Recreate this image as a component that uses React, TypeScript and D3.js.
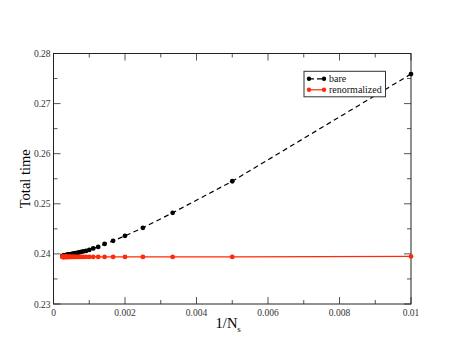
import React, { useRef, useEffect } from "react";
import * as d3 from "d3";

// 1/N_s for N_s = 100, 200, ..., 4000
const invNs = [
  0.01, 0.005, 0.003333, 0.0025, 0.002, 0.001667, 0.001429, 0.00125, 0.001111, 0.001,
  0.000909, 0.000833, 0.000769, 0.000714, 0.000667, 0.000625, 0.000588, 0.000556, 0.000526, 0.0005,
  0.000476, 0.000455, 0.000435, 0.000417, 0.0004, 0.000385, 0.00037, 0.000357, 0.000345, 0.000333,
  0.000323, 0.000313, 0.000303, 0.000294, 0.000286, 0.000278, 0.00027, 0.000263, 0.000256, 0.00025,
];

const bareTime = [
  0.2759, 0.2545, 0.2482, 0.2452, 0.2436, 0.2426, 0.242, 0.2414, 0.2411, 0.2408,
  0.2406, 0.2405, 0.2404, 0.2403, 0.2402, 0.24015, 0.2401, 0.24005, 0.24, 0.23995,
  0.2399, 0.23988, 0.23986, 0.23984, 0.23982, 0.2398, 0.23978, 0.23976, 0.23974, 0.23972,
  0.2397, 0.23968, 0.23966, 0.23964, 0.23962, 0.2396, 0.23958, 0.23956, 0.23955, 0.23954,
];

const renormTime = [
  0.2395, 0.2394, 0.2394, 0.2394, 0.2394, 0.2394, 0.2394, 0.2394, 0.2394, 0.2394,
  0.2394, 0.2394, 0.2394, 0.2394, 0.2394, 0.2394, 0.2394, 0.2394, 0.2394, 0.2394,
  0.2394, 0.2394, 0.2394, 0.2394, 0.2394, 0.2394, 0.2394, 0.2394, 0.2394, 0.2394,
  0.2394, 0.2394, 0.2394, 0.2394, 0.2394, 0.2394, 0.2394, 0.2394, 0.2394, 0.2394,
];

const xTicks = [0, 0.002, 0.004, 0.006, 0.008, 0.01];
const xTickLabels = ["0", "0.002", "0.004", "0.006", "0.008", "0.01"];
const yTicks = [0.23, 0.24, 0.25, 0.26, 0.27, 0.28];
const yTickLabels = ["0.23", "0.24", "0.25", "0.26", "0.27", "0.28"];

const seriesNames = ["bare", "renormalized"];
const seriesColors = ["#000000", "#ff2a0a"];

const W = 463;
const H = 358;
const margin = { top: 53.5, right: 52, bottom: 54, left: 53.5 };
const FONT = "Liberation Serif, Times New Roman, serif";

export default function App() {
  const ref = useRef<SVGSVGElement | null>(null);

  useEffect(() => {
    document.body.style.margin = "0";
    const svg = d3.select(ref.current);
    svg.selectAll("*").remove();
    svg.style("font-family", FONT);

    const x = d3.scaleLinear().domain([0, 0.01]).range([margin.left, W - margin.right]);
    const y = d3.scaleLinear().domain([0.23, 0.28]).range([H - margin.bottom, margin.top]);
    const [x0, x1] = x.range();
    const [y0, y1] = y.range();

    svg.append("rect").attr("width", W).attr("height", H).attr("fill", "#fff");

    const tickColor = "#555";
    const minorX = d3.range(0.001, 0.01, 0.002);
    const minorY = d3.range(0.235, 0.28, 0.01);
    const g = svg.append("g").attr("stroke", tickColor).attr("stroke-width", 1);

    // ticks on all four sides, pointing inward
    xTicks.forEach((t) => {
      g.append("line").attr("x1", x(t)).attr("x2", x(t)).attr("y1", y0).attr("y2", y0 - 7);
      g.append("line").attr("x1", x(t)).attr("x2", x(t)).attr("y1", y1).attr("y2", y1 + 7);
    });
    minorX.forEach((t) => {
      g.append("line").attr("x1", x(t)).attr("x2", x(t)).attr("y1", y0).attr("y2", y0 - 4);
      g.append("line").attr("x1", x(t)).attr("x2", x(t)).attr("y1", y1).attr("y2", y1 + 4);
    });
    yTicks.forEach((t) => {
      g.append("line").attr("x1", x0).attr("x2", x0 + 7).attr("y1", y(t)).attr("y2", y(t));
      g.append("line").attr("x1", x1).attr("x2", x1 - 7).attr("y1", y(t)).attr("y2", y(t));
    });
    minorY.forEach((t) => {
      g.append("line").attr("x1", x0).attr("x2", x0 + 4).attr("y1", y(t)).attr("y2", y(t));
      g.append("line").attr("x1", x1).attr("x2", x1 - 4).attr("y1", y(t)).attr("y2", y(t));
    });

    svg
      .append("rect")
      .attr("x", x0)
      .attr("y", y1)
      .attr("width", x1 - x0)
      .attr("height", y0 - y1)
      .attr("fill", "none")
      .attr("stroke", "#222")
      .attr("stroke-width", 1);

    // tick labels
    svg
      .selectAll(".xl")
      .data(xTicks)
      .join("text")
      .attr("x", (d) => x(d))
      .attr("y", y0 + 12)
      .attr("text-anchor", "middle")
      .attr("font-size", 9.5)
      .attr("fill", "#333")
      .text((_, i) => xTickLabels[i]);

    svg
      .selectAll(".yl")
      .data(yTicks)
      .join("text")
      .attr("x", x0 - 3)
      .attr("y", (d) => y(d) + 3.5)
      .attr("text-anchor", "end")
      .attr("font-size", 9.5)
      .attr("fill", "#333")
      .text((_, i) => yTickLabels[i]);

    // axis titles
    svg
      .append("text")
      .attr("transform", `translate(29.5,${(y0 + y1) / 2}) rotate(-90)`)
      .attr("text-anchor", "middle")
      .attr("font-size", 14.5)
      .text("Total time");

    const xl = svg
      .append("text")
      .attr("x", (x0 + x1) / 2 - 4)
      .attr("y", 328)
      .attr("text-anchor", "middle")
      .attr("font-size", 14.5);
    xl.append("tspan").text("1/N");
    xl.append("tspan").attr("font-size", 9).attr("dy", 4).text("s");

    // series
    const allY = [bareTime, renormTime];
    allY.forEach((vals, si) => {
      const pts: [number, number][] = invNs.map((v, i) => [x(v), y(vals[i])]);
      svg
        .append("path")
        .attr("d", d3.line()(pts))
        .attr("fill", "none")
        .attr("stroke", seriesColors[si])
        .attr("stroke-width", si === 0 ? 1.2 : 1.3)
        .attr("stroke-dasharray", si === 0 ? "5,3.5" : null);
      svg
        .append("g")
        .selectAll("circle")
        .data(pts)
        .join("circle")
        .attr("cx", (d) => d[0])
        .attr("cy", (d) => d[1])
        .attr("r", 2.4)
        .attr("fill", seriesColors[si]);
    });

    // legend
    const lx = 304;
    const ly = 71.3;
    svg
      .append("rect")
      .attr("x", lx)
      .attr("y", ly)
      .attr("width", 81.5)
      .attr("height", 25.5)
      .attr("fill", "#fff")
      .attr("stroke", "#333")
      .attr("stroke-width", 1);
    seriesNames.forEach((name, i) => {
      const yy = ly + 7.5 + i * 11;
      svg
        .append("line")
        .attr("x1", lx + 5)
        .attr("x2", lx + 20)
        .attr("y1", yy)
        .attr("y2", yy)
        .attr("stroke", seriesColors[i])
        .attr("stroke-width", 1.2)
        .attr("stroke-dasharray", i === 0 ? "5,3" : null);
      [lx + 5, lx + 20].forEach((cx) =>
        svg.append("circle").attr("cx", cx).attr("cy", yy).attr("r", 2.2).attr("fill", seriesColors[i])
      );
      svg
        .append("text")
        .attr("x", lx + 25)
        .attr("y", yy + 3.3)
        .attr("font-size", 10)
        .attr("fill", "#111")
        .text(name);
    });
  }, []);

  return <svg ref={ref} width={W} height={H} style={{ display: "block" }} />;
}
